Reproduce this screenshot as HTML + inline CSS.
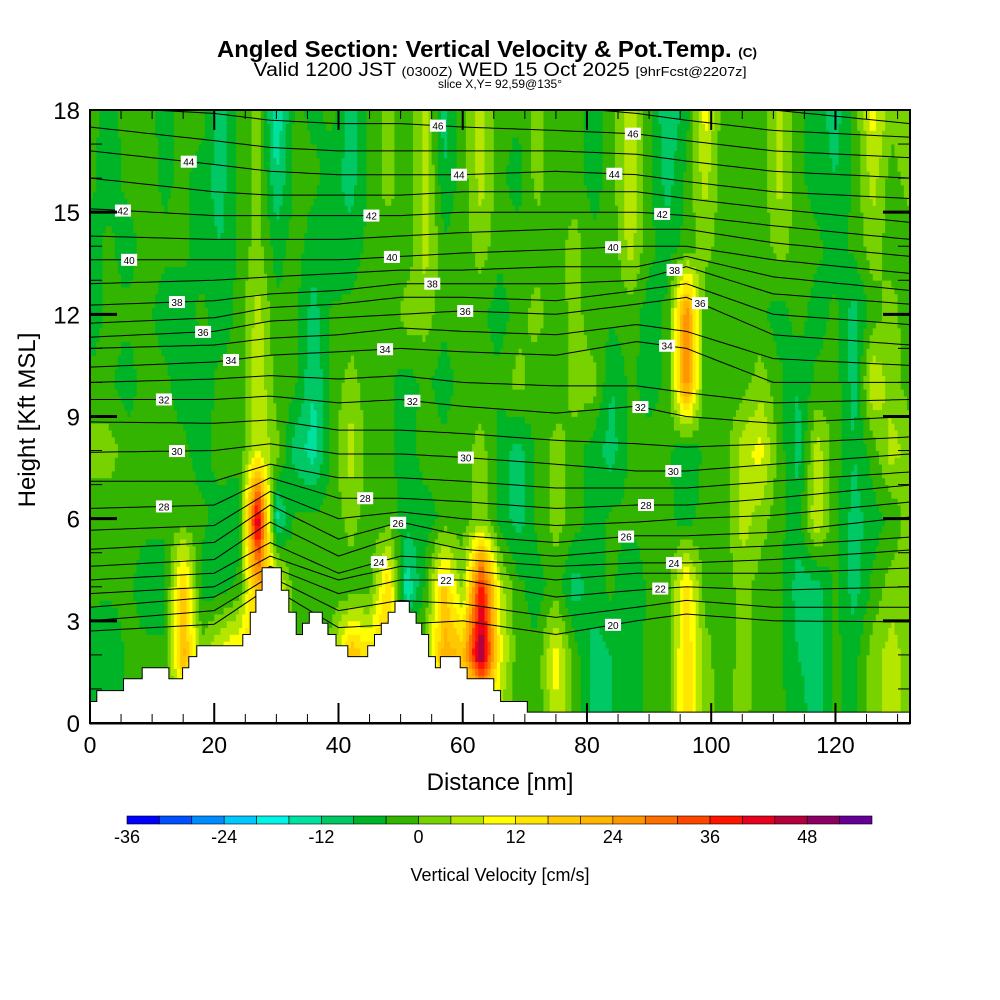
<!DOCTYPE html>
<html><head><meta charset="utf-8"><style>
html,body{margin:0;padding:0;background:#fff;width:1000px;height:1000px;overflow:hidden}
svg text{font-family:"Liberation Sans",Arial,sans-serif}
</style></head><body>
<svg id="chart" width="1000" height="1000" viewBox="0 0 1000 1000" xmlns="http://www.w3.org/2000/svg">
<defs><clipPath id="plotClip"><rect x="90" y="110" width="820" height="613"/></clipPath></defs>
<rect x="0" y="0" width="1000" height="1000" fill="#fff"/>
<g id="field"></g>
<g id="contours" clip-path="url(#plotClip)"></g>
<g id="terrain"></g>
<g id="labels"></g>
<g id="axes"></g>
<text x="487" y="57" text-anchor="middle" font-size="23" font-weight="bold" textLength="540" lengthAdjust="spacingAndGlyphs">Angled Section: Vertical Velocity &amp; Pot.Temp. <tspan font-size="13">(C)</tspan></text>
<text x="500" y="76" text-anchor="middle" font-size="19" textLength="493" lengthAdjust="spacingAndGlyphs">Valid 1200 JST <tspan font-size="13">(0300Z)</tspan> WED 15 Oct 2025 <tspan font-size="13">[9hrFcst@2207z]</tspan></text>
<text x="500" y="88" text-anchor="middle" font-size="12">slice X,Y= 92,59@135°</text>
<text x="500" y="790" text-anchor="middle" font-size="24">Distance [nm]</text>
<text transform="translate(35,420) rotate(-90)" text-anchor="middle" font-size="24">Height [Kft MSL]</text>
<g id="colorbar"></g>
<text x="500" y="881" text-anchor="middle" font-size="18">Vertical Velocity [cm/s]</text>
</svg>
<script>
// ---- data ----
const gridNm = [0,3,6,9,12,15,18,21,24,27,30,33,36,39,42,45,48,51,54,57,60,63,66,69,72,75,78,81,84,87,90,93,96,99,102,105,108,111,114,117,120,123,126,129,132];
const gridH = [0,2,4,6,8,10,12,14,16,18];
const wRow0 = [-6,-8,-3,-3,-3,-3,-3,-3,-3,-3,-3,-3,-3,-3,-3,-3,-3,-3,-3,-3,-3,-3,2,-3,-3,8,-2,-10,-8,-6,-3,-3,16,2,-2,2,-3,-3,-6,-10,-3,-6,2,6,2];
const wRow2 = [-6,-8,-3,-3,-3,22,2,10,14,16,16,2,-3,2,20,14,18,2,2,22,20,50,10,-3,-3,10,-2,-10,-8,-6,-3,-3,16,2,-3,2,-2,-3,-8,-10,-3,-6,2,6,2];
const wRow4 = [-3,-3,-3,-6,-6,18,-6,-6,-3,22,12,-3,-3,-2,-3,-2,16,-16,-3,18,2,40,6,-3,-6,-2,-10,-6,-3,-8,-3,-2,14,-2,-3,2,-2,-3,-10,-10,-3,-10,-3,2,2];
const wRow6 = [-3,-3,-3,-3,-3,-2,-3,-6,-6,46,-14,-3,-3,-3,2,-3,-2,-6,-6,-3,-2,2,-6,-10,-3,2,-2,-6,-3,-3,-2,-3,-6,-2,-3,6,2,-3,-6,8,-3,-10,-6,-3,2];
const wRow8 = [2,2,-2,-3,-3,-3,-6,-2,-3,8,2,-10,-14,-2,6,-2,-3,-6,-2,-3,-2,2,-6,-10,-3,2,-2,-6,-10,-3,-2,-3,-8,-3,-2,6,10,-2,-10,6,-2,-8,-2,6,2];
const wRow10 = [-3,-3,-6,-2,-3,-6,-6,-3,-3,8,-2,-3,-12,-3,2,-3,-3,-6,-3,-6,-2,-3,-3,2,-3,-3,2,2,-8,-3,-6,-3,28,-3,-3,-2,2,-3,-8,-3,-2,-10,8,2,-2];
const wRow12 = [-6,-3,-3,-3,-6,-6,-3,-6,-3,6,-3,-3,-10,-3,-3,-2,-3,2,2,-3,-2,-3,-6,-2,2,-3,2,-3,-3,-2,-6,-3,28,-3,-3,-2,-3,-6,-2,-6,-3,-10,-2,2,-3];
const wRow14 = [-6,-3,-6,-2,-3,-3,-6,-8,-3,2,-6,-2,-6,-8,-6,-3,-2,-3,6,-3,-2,2,-3,-2,-3,-2,2,-3,-3,6,-3,-6,-3,2,-3,-2,-3,2,-2,-3,-6,-3,2,-2,-3];
const wRow16 = [-3,-6,-3,-2,-5,-3,-6,-10,-3,2,-12,-3,-3,-6,-10,-3,2,-3,6,-8,-2,6,-3,-6,2,-3,-2,-6,-2,8,-3,-10,-3,6,-3,-2,-3,6,-3,-6,-8,-3,6,-2,2];
const wRow18 = [-3,-5,-3,-3,-5,-3,-2,-10,-3,2,-16,-3,-5,-3,-10,-3,2,-3,6,-10,-2,6,-3,-3,2,-3,-2,-6,-2,8,-3,-12,-6,10,-3,-2,-3,6,-3,-6,-10,-3,10,2,2];
const wRows = [wRow0,wRow2,wRow4,wRow6,wRow8,wRow10,wRow12,wRow14,wRow16,wRow18];

const terrainNm = [0,1.1,5.4,8.4,12.7,14.9,15.9,17.2,24.6,25.8,26.7,27.7,30.8,32.0,33.2,34.2,35.3,37.4,38.3,39.6,41.5,44.7,45.8,46.9,48.0,49.1,51.4,52.5,53.4,54.5,55.6,56.4,59.6,60.7,65.0,66.1,70.4,132];
const terrainH = [0.63,0.95,1.3,1.62,1.3,1.62,1.95,2.27,2.6,3.25,3.9,4.56,3.9,3.25,2.6,2.93,3.25,2.93,2.6,2.27,1.95,2.27,2.6,2.93,3.25,3.57,3.25,2.93,2.6,1.95,1.62,1.95,1.62,1.3,0.95,0.63,0.32,0.32];

const thetaKnotNm = [0,20,29,40,50,60,75,88,96,110,132];
const thetaLevels = [20,21,22,23,24,25,26,27,28,29,30,31,32,33,34,35,36,37,38,39,40,41,42,43,44,45,46,47,48];
const thetaHeights = [
[2.7,2.9,4.0,2.8,2.9,3.0,2.6,3.0,3.2,3.0,2.97],
[3.0,3.3,4.3,3.3,3.6,3.5,3.1,3.4,3.6,3.4,3.4],
[3.4,3.7,4.6,3.8,4.2,4.2,3.7,3.9,4.0,3.9,4.0],
[3.8,4.0,4.9,4.2,4.6,4.5,4.2,4.4,4.4,4.4,4.55],
[4.2,4.4,5.3,4.4,4.9,4.8,4.6,4.7,4.7,4.8,5.08],
[4.6,4.8,5.9,4.9,5.5,5.1,4.9,5.1,5.1,5.2,5.46],
[5.1,5.3,6.4,5.4,5.9,5.5,5.3,5.5,5.5,5.6,6.05],
[5.66,5.8,6.8,6.0,6.2,6.0,5.8,5.9,6.0,6.1,6.49],
[6.3,6.4,7.2,6.6,6.6,6.5,6.3,6.4,6.4,6.6,6.99],
[7.1,7.1,7.6,7.2,7.2,7.1,6.9,6.9,6.9,7.1,7.37],
[7.95,8.0,8.2,7.9,7.9,7.8,7.6,7.4,7.4,7.6,7.9],
[8.84,8.8,8.9,8.6,8.6,8.5,8.3,8.2,8.1,8.2,8.4],
[9.5,9.5,9.6,9.4,9.5,9.3,9.1,9.3,9.0,8.8,9.0],
[10.0,10.1,10.2,10.1,10.2,10.0,9.9,9.9,9.7,9.4,9.5],
[10.45,10.6,10.8,10.9,11.0,10.9,10.8,11.2,11.0,10.0,10.0],
[11.0,11.1,11.3,11.4,11.6,11.5,11.4,11.7,11.5,10.7,10.5],
[11.33,11.5,11.8,11.9,12.0,12.1,12.0,12.3,12.5,11.4,11.1],
[11.74,11.9,12.2,12.3,12.5,12.5,12.4,12.7,12.9,12.0,11.7],
[12.27,12.4,12.6,12.7,12.9,12.9,12.9,13.0,13.4,12.6,12.3],
[12.9,13.0,13.1,13.2,13.3,13.3,13.4,13.4,13.7,13.1,12.7],
[13.6,13.6,13.6,13.6,13.7,13.8,13.9,14.0,14.0,13.6,13.2],
[14.3,14.2,14.2,14.2,14.3,14.4,14.5,14.5,14.5,14.1,13.7],
[15.1,14.9,14.9,14.9,14.9,15.0,15.0,15.0,14.9,14.6,14.2],
[16.0,15.6,15.5,15.5,15.5,15.6,15.6,15.6,15.4,15.1,14.7],
[16.8,16.4,16.2,16.1,16.1,16.1,16.2,16.1,15.9,15.6,15.4],
[17.5,17.1,16.9,16.8,16.8,16.8,16.8,16.7,16.5,16.2,16.0],
[18.1,17.9,17.7,17.6,17.6,17.5,17.4,17.3,17.1,16.8,16.6],
[18.6,18.5,18.4,18.3,18.3,18.2,18.1,17.9,17.7,17.4,17.2],
[19.2,19.1,19.0,18.9,18.9,18.8,18.7,18.5,18.3,18.0,17.6]
];
const labelLevel = [46,46,44,44,44,42,42,42,40,40,40,38,38,38,36,36,36,34,34,34,32,32,32,30,30,30,28,28,28,26,26,24,24,22,22,20];
const labelNm = [56.0,87.4,15.9,59.4,84.4,5.3,45.3,92.1,6.3,48.6,84.2,14.0,55.1,94.1,18.2,60.4,98.2,22.7,47.5,92.9,11.9,51.9,88.6,14.0,60.5,93.9,11.9,44.3,89.5,49.6,86.3,46.5,94.0,57.3,91.8,84.2];

const xTicks = [0,20,40,60,80,100,120];
const yTicks = [0,3,6,9,12,15,18];
const cbTicks = [-36,-24,-12,0,12,24,36,48];
const binColors = ["#0000ff","#0050ff","#008cff","#00c8ff","#00f5e6","#00e1a0","#00c864","#00b428","#32b400","#78d200","#b4e600","#ffff00","#ffe600","#ffc800","#ffb400","#ff9600","#ff6e00","#ff4600","#ff1400","#e6001e","#b4003c","#8c0064","#640096"];
const binMin = -36, binStep = 4;

// ---- scales ----
const X0 = 90, X1 = 910, Y0 = 723, Y1 = 110;
const xMax = 132, yMax = 18;
const xs = nm => X0 + (X1 - X0) * nm / xMax;
const ys = h => Y0 - (Y0 - Y1) * h / yMax;
const NS = "http://www.w3.org/2000/svg";
function mk(tag, attrs, parent) { const e = document.createElementNS(NS, tag); for (const k in attrs) e.setAttribute(k, attrs[k]); parent.appendChild(e); return e; }
function colorFor(v) { let i = Math.floor((v - binMin) / binStep); i = Math.max(0, Math.min(binColors.length - 1, i)); return binColors[i]; }
function wAt(nm, h) {
  let i = Math.min(gridNm.length - 2, Math.floor(nm / 3)); let fx = (nm - gridNm[i]) / 3;
  let j = Math.min(gridH.length - 2, Math.floor(h / 2)); let fy = (h - gridH[j]) / 2;
  const a = wRows[j][i], b = wRows[j][i+1], c = wRows[j+1][i], d = wRows[j+1][i+1];
  return (a*(1-fx)+b*fx)*(1-fy) + (c*(1-fx)+d*fx)*fy;
}
function interp(xsArr, ysArr, x) {
  for (let i = 0; i < xsArr.length - 1; i++) if (x <= xsArr[i+1]) { const f = (x - xsArr[i])/(xsArr[i+1]-xsArr[i]); return ysArr[i]*(1-f)+ysArr[i+1]*f; }
  return ysArr[ysArr.length-1];
}

// ---- field ----
const field = document.getElementById('field');
const dx = 0.5, dh = 0.2;
for (let nm = 0; nm < xMax; nm += dx) {
  let runStart = 0, runColor = null;
  const nSteps = Math.round(yMax / dh);
  for (let k = 0; k <= nSteps; k++) {
    const c = k < nSteps ? colorFor(wAt(nm + dx/2, k*dh + dh/2)) : null;
    if (c !== runColor) {
      if (runColor !== null) {
        const r = mk('rect', {x: xs(nm).toFixed(2), y: ys(k*dh).toFixed(2), width: (xs(dx)-X0+0.6).toFixed(2), height: (ys(runStart*dh)-ys(k*dh)+0.4).toFixed(2), fill: runColor}, field);
        
        
      }
      runStart = k; runColor = c;
    }
  }
}

// ---- contours ----
const cont = document.getElementById('contours');
thetaLevels.forEach((lev, li) => {
  let d = '';
  for (let nm = 0; nm <= xMax; nm += 1) {
    const h = interp(thetaKnotNm, thetaHeights[li], nm);
    d += (nm === 0 ? 'M' : 'L') + xs(nm).toFixed(1) + ',' + ys(h).toFixed(1);
  }
  const p = mk('path', {d: d, fill: 'none', stroke: '#000', 'stroke-width': 1}, cont);
  
  
});

// ---- terrain ----
const ter = document.getElementById('terrain');
let td = 'M' + xs(0) + ',' + (Y0 + 1);
for (let i = 0; i < terrainNm.length - 1; i++) {
  td += 'L' + xs(terrainNm[i]).toFixed(1) + ',' + ys(terrainH[i]).toFixed(1) + 'L' + xs(terrainNm[i+1]).toFixed(1) + ',' + ys(terrainH[i]).toFixed(1);
}
td += 'L' + xs(xMax) + ',' + (Y0 + 1) + 'Z';
const tp = mk('path', {d: td, fill: '#fff', stroke: '#000', 'stroke-width': 1}, ter);



// ---- labels ----
const lab = document.getElementById('labels');
labelLevel.forEach((lev, i) => {
  const li = thetaLevels.indexOf(lev);
  const nm = labelNm[i];
  const h = interp(thetaKnotNm, thetaHeights[li], nm);
  const cx = xs(nm), cy = ys(h);
  const g = mk('g', {}, lab);
  
  
  mk('rect', {x: cx - 8, y: cy - 6, width: 16, height: 12, fill: '#fff'}, g);
  const t = mk('text', {x: cx, y: cy + 4, 'text-anchor': 'middle', 'font-size': 10}, g);
  t.textContent = lev;
});

// ---- axes ----
const ax = document.getElementById('axes');
const fr = mk('rect', {x: X0, y: Y1, width: X1 - X0, height: Y0 - Y1, fill: 'none', stroke: '#000', 'stroke-width': 2}, ax);


for (let nm = 5; nm < xMax; nm += 5) {
  const major = nm % 20 === 0, L = major ? 20 : 9;
  mk('line', {x1: xs(nm), x2: xs(nm), y1: Y0, y2: Y0 - L, stroke: '#000', 'stroke-width': major ? 2 : 1}, ax);
  mk('line', {x1: xs(nm), x2: xs(nm), y1: Y1, y2: Y1 + L, stroke: '#000', 'stroke-width': major ? 2 : 1}, ax);
}
xTicks.forEach(v => {
  const t = mk('text', {x: xs(v), y: 753, 'text-anchor': 'middle', 'font-size': 23}, ax);
  
  
  t.textContent = v;
});
yTicks.forEach(v => {
  if (v > 0 && v < yMax) {
    mk('line', {x1: X0, x2: X0 + 27, y1: ys(v), y2: ys(v), stroke: '#000', 'stroke-width': 3}, ax);
    mk('line', {x1: X1, x2: X1 - 27, y1: ys(v), y2: ys(v), stroke: '#000', 'stroke-width': 3}, ax);
  }
  const t = mk('text', {x: 80, y: ys(v) + 9, 'text-anchor': 'end', 'font-size': 24}, ax);
  
  
  t.textContent = v;
});
for (let v = 1; v < yMax; v++) {
  if (v % 3 === 0) continue;
  mk('line', {x1: X0, x2: X0 + 12, y1: ys(v), y2: ys(v), stroke: '#000', 'stroke-width': 1}, ax);
  mk('line', {x1: X1, x2: X1 - 12, y1: ys(v), y2: ys(v), stroke: '#000', 'stroke-width': 1}, ax);
}

// ---- colorbar ----
const cb = document.getElementById('colorbar');
const cbX0 = 127, cbW = 745, cbY = 816, cbH = 8;
const bw = cbW / binColors.length;
binColors.forEach((c, i) => {
  const r = mk('rect', {x: cbX0 + i*bw, y: cbY, width: bw, height: cbH, fill: c, stroke: '#000', 'stroke-width': 0.6}, cb);
  
  
});
cbTicks.forEach(v => {
  const t = mk('text', {x: cbX0 + (v - binMin) / binStep * bw, y: 843, 'text-anchor': 'middle', 'font-size': 18}, cb);
  
  
  t.textContent = v;
});
</script>
</body></html>
